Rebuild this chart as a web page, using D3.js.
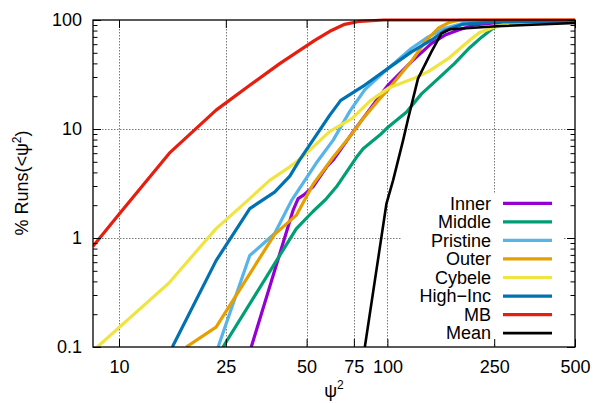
<!DOCTYPE html>
<html>
<head>
<meta charset="utf-8">
<script src="https://cdn.jsdelivr.net/npm/d3@7"></script>
<style>
  body { margin: 0; background: #fff; }
  text { font-family: "Liberation Sans", Arial, sans-serif; }
</style>
</head>
<body>
<div id="chart"></div>
<script>
// ticks
var psiTicks = [10, 25, 50, 75, 100, 250, 500];
var pctTicks = [0.1, 1, 10, 100];
var pctTickLabels = ["0.1", "1", "10", "100"];

// legend order
var seriesNames = ["Inner", "Middle", "Pristine", "Outer", "Cybele", "High\u2212Inc", "MB", "Mean"];
var seriesColors = ["#9400d3", "#009e73", "#56b4e9", "#e69f00", "#f0e442", "#0072b2", "#e51e10", "#000000"];

// cumulative % of runs below psi^2
var innerPsi = [31.1, 44.5, 46.5, 49, 52.8, 59.3, 62.8, 74.5, 91, 100.6, 123, 146, 164, 184, 210, 250, 500];
var innerPct = [0.1, 1.79, 2.3, 2.5, 2.95, 4.48, 5.2, 9.4, 18.3, 25.3, 41.5, 61, 72.8, 81, 90, 94, 95.5];

var middlePsi = [24.4, 45.8, 52.8, 59.3, 64.6, 76.7, 81.2, 93.7, 99.2, 117.9, 134, 154.6, 178, 203, 225, 250, 275, 500];
var middlePct = [0.1, 1.22, 1.75, 2.3, 2.95, 5.5, 6.6, 8.8, 10.1, 14.3, 21, 29, 40, 56, 70, 86, 92, 96];

var pristinePsi = [23.4, 30.7, 38, 43.9, 54.4, 62.8, 72.4, 82.4, 100.6, 123, 142, 164, 190, 250, 500];
var pristinePct = [0.1, 0.69, 1.1, 2.2, 4.9, 7.9, 14.5, 23, 36, 55, 70, 84, 93, 97, 97.5];

var outerPsi = [17.8, 23, 38, 45.8, 52.8, 62.8, 74.5, 81.2, 93.7, 100.6, 123, 138, 154.6, 170, 185, 500];
var outerPct = [0.1, 0.152, 1.08, 1.62, 3.1, 5.5, 9.3, 12.5, 19, 23, 42, 63, 84, 95, 99.5, 100];

var cybelePsi = [8.3, 15.4, 23, 30.7, 36.4, 43.3, 48.5, 61, 74, 86, 100.6, 125, 142, 170, 203, 221, 250, 280, 500];
var cybelePct = [0.1, 0.39, 1.22, 2.3, 3.38, 4.5, 5.6, 9.5, 12.5, 18, 23.6, 29, 33.6, 45, 65.6, 77, 86, 93, 97];

var highIncPsi = [15.8, 23, 30.7, 38, 43.3, 47.1, 61, 67, 82.4, 100.6, 123, 146, 164, 190, 250, 500];
var highIncPct = [0.1, 0.62, 1.86, 2.64, 3.7, 5.2, 13.4, 18.3, 25.3, 36, 51, 65.6, 80, 91, 96, 97];

var mbPsi = [8, 10, 15.4, 23, 30.7, 39.7, 47.1, 53.6, 61, 69.3, 78.9, 97, 500];
var mbPct = [0.84, 1.65, 6.0, 14.9, 25.2, 39.8, 52.7, 65, 78.8, 91.3, 97.3, 100, 100];

var meanPsi = [82.4, 99.2, 105, 114.4, 119.5, 130, 146, 159, 171, 203, 255, 500];
var meanPct = [0.1, 2.07, 3.38, 7.87, 12.5, 29, 51.3, 75.5, 82.2, 84.5, 87.6, 94];

var seriesPsi = [innerPsi, middlePsi, pristinePsi, outerPsi, cybelePsi, highIncPsi, mbPsi, meanPsi];
var seriesPct = [innerPct, middlePct, pristinePct, outerPct, cybelePct, highIncPct, mbPct, meanPct];

var svgWidth = 594;
var svgHeight = 403;
var margin = { top: 20, right: 19, bottom: 56, left: 93 };
var width = svgWidth - margin.left - margin.right;
var height = svgHeight - margin.top - margin.bottom;
var fontSize = 18;

var svg = d3.select("#chart")
  .append("svg")
  .attr("width", svgWidth)
  .attr("height", svgHeight);

var chartGroup = svg.append("g")
  .attr("transform", `translate(${margin.left}, ${margin.top})`);

var x = d3.scaleLog().domain([8, 500]).range([0, width]);
var y = d3.scaleLog().domain([0.1, 100]).range([height, 0]);

// grid
chartGroup.selectAll(".xgrid")
  .data(psiTicks.filter(d => d < 500))
  .enter().append("line")
  .attr("x1", d => Math.round(x(d)) + 0.5)
  .attr("x2", d => Math.round(x(d)) + 0.5)
  .attr("y1", 0)
  .attr("y2", height)
  .attr("stroke", "#777")
  .attr("stroke-width", 1)
  .attr("stroke-dasharray", "1.5,1.5");

chartGroup.selectAll(".ygrid")
  .data([1, 10])
  .enter().append("line")
  .attr("x1", 0)
  .attr("x2", width)
  .attr("y1", d => Math.round(y(d)) + 0.5)
  .attr("y2", d => Math.round(y(d)) + 0.5)
  .attr("stroke", "#777")
  .attr("stroke-width", 1)
  .attr("stroke-dasharray", "1.5,1.5");

// legend background (opaque key)
var legendX = 491 - margin.left;
var legendY0 = 203.3 - margin.top;
var legendStep = 18.55;
chartGroup.append("rect")
  .attr("x", legendX - 90)
  .attr("y", legendY0 - 10)
  .attr("width", 162)
  .attr("height", legendStep * 8 + 2)
  .attr("fill", "#fff");

// clip: let lines on the top border still show
svg.append("defs").append("clipPath").attr("id", "plotclip")
  .append("rect")
  .attr("x", 0).attr("y", -3)
  .attr("width", width + 3).attr("height", height + 3);

var line = d3.line()
  .x(d => x(d[0]))
  .y(d => y(d[1]));

var curves = chartGroup.append("g").attr("clip-path", "url(#plotclip)");
seriesNames.forEach(function(name, i) {
  var pts = seriesPsi[i].map((p, j) => [p, seriesPct[i][j]]);
  curves.append("path")
    .datum(pts)
    .attr("d", line)
    .attr("fill", "none")
    .attr("stroke", seriesColors[i])
    .attr("stroke-width", name == "Mean" ? 2.6 : 3.2)
    .attr("stroke-linejoin", "round");
});

// axes, ticks pointing inward
function styleAxis(g) {
  g.select(".domain").remove();
  g.selectAll("line").attr("stroke", "#000").attr("stroke-width", 1);
  g.selectAll("text").attr("font-size", fontSize).attr("fill", "#000")
    .attr("font-family", '"Liberation Sans", Arial, sans-serif');
}

var minorTicks = [];
[0.1, 1, 10].forEach(function(dec) {
  for (var k = 2; k <= 9; k++) minorTicks.push(dec * k);
});

chartGroup.append("g")
  .attr("transform", `translate(0, ${height})`)
  .call(d3.axisBottom(x).tickValues(psiTicks).tickFormat(d3.format("d")).tickSize(-8).tickPadding(13))
  .call(styleAxis);

chartGroup.append("g")
  .call(d3.axisTop(x).tickValues(psiTicks).tickFormat("").tickSize(-8))
  .call(styleAxis);

chartGroup.append("g")
  .call(d3.axisLeft(y).tickValues(pctTicks).tickFormat((d, i) => pctTickLabels[i]).tickSize(-8).tickPadding(11))
  .call(styleAxis);

chartGroup.append("g")
  .call(d3.axisLeft(y).tickValues(minorTicks).tickFormat("").tickSize(-4.5))
  .call(styleAxis);

chartGroup.append("g")
  .attr("transform", `translate(${width}, 0)`)
  .call(d3.axisRight(y).tickValues(pctTicks).tickFormat("").tickSize(-8))
  .call(styleAxis);

chartGroup.append("g")
  .attr("transform", `translate(${width}, 0)`)
  .call(d3.axisRight(y).tickValues(minorTicks).tickFormat("").tickSize(-4.5))
  .call(styleAxis);

// border
chartGroup.append("rect")
  .attr("x", 0).attr("y", 0)
  .attr("width", width).attr("height", height)
  .attr("fill", "none")
  .attr("stroke", "#000")
  .attr("stroke-width", 1.3);

// legend
seriesNames.forEach(function(name, i) {
  var ly = legendY0 + i * legendStep;
  chartGroup.append("text")
    .attr("x", legendX)
    .attr("y", ly)
    .attr("dy", "0.35em")
    .attr("text-anchor", "end")
    .attr("font-size", fontSize)
    .text(name);
  chartGroup.append("line")
    .attr("x1", legendX + 12)
    .attr("x2", legendX + 61)
    .attr("y1", ly)
    .attr("y2", ly)
    .attr("stroke", seriesColors[i])
    .attr("stroke-width", name == "Mean" ? 2.6 : 3.2);
});

// axis labels
var yLabel = svg.append("text")
  .attr("transform", "rotate(-90)")
  .attr("x", -183)
  .attr("y", 28)
  .attr("text-anchor", "middle")
  .attr("font-size", fontSize);
yLabel.append("tspan").text("% Runs(<\u03c8");
yLabel.append("tspan").attr("dy", -7).attr("font-size", 12).text("2");
yLabel.append("tspan").attr("dy", 7).text(")");

var xLabel = svg.append("text")
  .attr("x", margin.left + width / 2)
  .attr("y", 397)
  .attr("text-anchor", "middle")
  .attr("font-size", fontSize);
xLabel.append("tspan").text("\u03c8");
xLabel.append("tspan").attr("dy", -8).attr("font-size", 12).text("2");
</script>
</body>
</html>
